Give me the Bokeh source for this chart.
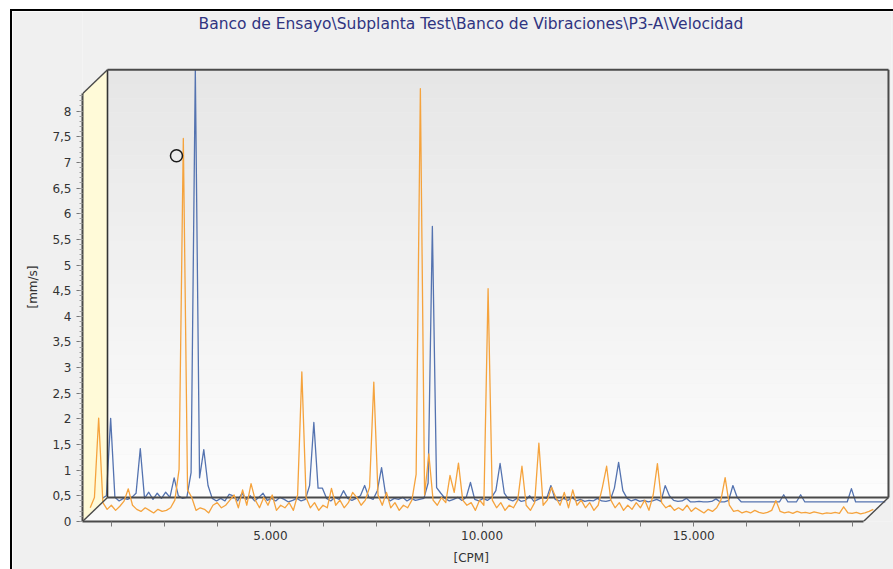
from bokeh.plotting import figure
from bokeh.models import Range1d, FixedTicker, Title, Label
from bokeh.embed import file_html
from bokeh.resources import INLINE

# ---------------------------------------------------------------- data
title_text = "Banco de Ensayo\\Subplanta Test\\Banco de Vibraciones\\P3-A\\Velocidad"
x_title = "[CPM]"
y_title = "[mm/s]"

# spectrum bins: 600 CPM upwards, one bin every 100 CPM
first_cpm = 600
cpm_step = 100

# front row (orange) velocity amplitude per bin, mm/s
spectrum_front = [
    0.15, 0.35, 1.90, 0.25, 0.12, 0.20, 0.10, 0.18, 0.28, 0.52,
    0.20, 0.12, 0.08, 0.15, 0.10, 0.05, 0.12, 0.08, 0.10, 0.15,
    0.30, 0.90, 7.35, 0.50, 0.35, 0.10, 0.15, 0.12, 0.05, 0.20,
    0.25, 0.15, 0.20, 0.30, 0.40, 0.15, 0.50, 0.20, 0.62, 0.30,
    0.15, 0.35, 0.20, 0.40, 0.10, 0.20, 0.15, 0.25, 0.10, 0.40,
    2.80, 0.35, 0.15, 0.25, 0.10, 0.20, 0.15, 0.53, 0.20, 0.30,
    0.15, 0.25, 0.45, 0.35, 0.20, 0.30, 0.55, 2.60, 0.40, 0.20,
    0.45, 0.15, 0.25, 0.10, 0.20, 0.15, 0.30, 0.80, 8.32, 0.40,
    1.20, 0.30, 0.20, 0.35, 0.25, 0.78, 0.45, 1.02, 0.30, 0.20,
    0.25, 0.10, 0.30, 0.20, 4.42, 0.30, 0.15, 0.25, 0.10, 0.20,
    0.15, 0.30, 0.96, 0.20, 0.10, 0.25, 1.41, 0.20, 0.30, 0.55,
    0.35, 0.20, 0.45, 0.15, 0.50, 0.20, 0.30, 0.15, 0.25, 0.10,
    0.20, 0.55, 0.96, 0.30, 0.15, 0.25, 0.10, 0.20, 0.12, 0.25,
    0.15, 0.30, 0.10, 0.40, 1.01, 0.25, 0.15, 0.20, 0.10, 0.15,
    0.10, 0.20, 0.08, 0.15, 0.10, 0.05, 0.12, 0.08, 0.15, 0.30,
    0.74, 0.20, 0.08, 0.10, 0.05, 0.08, 0.05, 0.10, 0.06, 0.04,
    0.06, 0.10, 0.29, 0.08, 0.05, 0.07, 0.04, 0.08, 0.05, 0.06,
    0.04, 0.07, 0.05, 0.03, 0.05, 0.04, 0.06, 0.04, 0.17, 0.05,
    0.04, 0.06, 0.03, 0.05, 0.08, 0.12,
]

# back row (blue) velocity amplitude per bin, mm/s
spectrum_back = [
    0.10, 0.15, 1.66, 0.12, 0.05, 0.10, 0.08, 0.12, 0.20, 1.07,
    0.10, 0.22, 0.08, 0.20, 0.10, 0.22, 0.12, 0.50, 0.15, 0.10,
    0.12, 0.60, 8.45, 0.50, 1.05, 0.35, 0.10, 0.05, 0.10, 0.05,
    0.18, 0.15, 0.05, 0.20, 0.08, 0.15, 0.05, 0.12, 0.20, 0.06,
    0.10, 0.05, 0.12, 0.08, 0.03, 0.06, 0.10, 0.05, 0.08, 0.35,
    1.58, 0.30, 0.30, 0.10, 0.05, 0.12, 0.08, 0.25, 0.10, 0.06,
    0.10, 0.15, 0.35, 0.12, 0.08, 0.25, 0.70, 0.15, 0.05, 0.10,
    0.08, 0.12, 0.05, 0.10, 0.06, 0.08, 0.10, 0.40, 5.40, 0.31,
    0.20, 0.10, 0.05, 0.08, 0.12, 0.06, 0.12, 0.41, 0.08, 0.05,
    0.10, 0.06, 0.12, 0.25, 0.78, 0.20, 0.08, 0.05, 0.10, 0.04,
    0.06, 0.15, 0.04, 0.08, 0.12, 0.10, 0.35, 0.08, 0.05, 0.10,
    0.06, 0.12, 0.05, 0.08, 0.04, 0.06, 0.05, 0.10, 0.05, 0.04,
    0.06, 0.30, 0.80, 0.25, 0.10, 0.05, 0.08, 0.04, 0.06, 0.03,
    0.05, 0.08, 0.04, 0.35, 0.15, 0.06, 0.04, 0.05, 0.10, 0.03,
    0.03, 0.04, 0.03, 0.03, 0.04, 0.09, 0.03, 0.03, 0.06, 0.35,
    0.12, 0.03, 0.03, 0.03, 0.03, 0.03, 0.03, 0.03, 0.03, 0.03,
    0.03, 0.17, 0.03, 0.03, 0.03, 0.17, 0.03, 0.03, 0.03, 0.03,
    0.03, 0.03, 0.03, 0.03, 0.03, 0.03, 0.03, 0.29, 0.03, 0.03,
    0.03, 0.03, 0.03, 0.03, 0.03, 0.03,
]

cpm = [first_cpm + i * cpm_step for i in range(len(spectrum_front))]

y_ticks = [0, 0.5, 1, 1.5, 2, 2.5, 3, 3.5, 4, 4.5, 5, 5.5, 6, 6.5, 7, 7.5, 8]
y_tick_labels = ["0", "0,5", "1", "1,5", "2", "2,5", "3", "3,5", "4", "4,5",
                 "5", "5,5", "6", "6,5", "7", "7,5", "8"]
x_ticks = [1250, 2500, 3750, 5000, 6250, 7500, 8750, 10000, 11250, 12500,
           13750, 15000, 16250, 17500, 18750]
x_tick_labels = {5000: "5.000", 10000: "10.000", 15000: "15.000"}

# cursor marker
cursor_cpm = [2780]
cursor_level = [7.13]

# ---------------------------------------------------------------- layout
# the frame reaches up to the top of the canvas so that the caption,
# drawn as a label, sits inside it above the box
FRAME_W, FRAME_H = 809, 510
X_MIN, X_MAX = 560, 19672
Y_MIN, Y_MAX = 0, 9.942
X_FRONT_END = 19010      # right end of the front plane
Y_FRONT_TOP = 8.34       # top of the front plane

px_per_x = FRAME_W / (X_MAX - X_MIN)
px_per_y = FRAME_H / (Y_MAX - Y_MIN)


def dx(pixels):
    return pixels / px_per_x


def dy(pixels):
    return pixels / px_per_y


DEPTH_X, DEPTH_Y = dx(25), dy(24)     # depth of the pseudo-3D box
FRONT_ROW, BACK_ROW = 6, 18           # depth of each series, in pixels

FONT = "DejaVu Sans"
EDGE = "#4a4a4a"

p = figure(
    frame_width=FRAME_W, frame_height=FRAME_H,
    x_range=Range1d(X_MIN, X_MAX), y_range=Range1d(Y_MIN, Y_MAX),
    output_backend="svg", toolbar_location=None,
    min_border_left=70, min_border_right=2, min_border_top=0, min_border_bottom=48,
    background_fill_color="#f0f0f0", border_fill_color="#f0f0f0",
    outline_line_color=None,
)
p.styles = {
    "margin-left": "10px", "margin-top": "9px",
    "border-left": "2px solid #000000", "border-top": "2px solid #000000",
}
p.xgrid.grid_line_color = None
p.ygrid.grid_line_color = None

# back wall with a soft vertical gradient
bx0, bx1 = X_MIN + DEPTH_X, X_FRONT_END + DEPTH_X
by0, by1 = DEPTH_Y, Y_FRONT_TOP + DEPTH_Y
bands = 30
band_bottom, band_top, band_fill = [], [], []
for i in range(bands):
    t0, t1 = i / bands, (i + 1) / bands
    band_bottom.append(by0 + (by1 - by0) * t0)
    band_top.append(by0 + (by1 - by0) * t1)
    level = round(253 - (253 - 230) * (t0 + t1) / 2)
    band_fill.append("#%02x%02x%02x" % (level, level, level))
p.quad(left=bx0, right=bx1, bottom=band_bottom, top=band_top,
       fill_color=band_fill, line_color=None)

# floor
p.patch([X_MIN, bx0, bx1, X_FRONT_END], [0, by0, by0, 0],
        fill_color="#f9f9f9", line_color=None)

# left side wall
p.patch([X_MIN, X_MIN, bx0, bx0], [0, Y_FRONT_TOP, by1, by0],
        fill_color="#fffad8", line_color=None)

# back series
p.line([c + dx(BACK_ROW) for c in cpm], [v + dy(BACK_ROW) for v in spectrum_back],
       line_color="#5473b0", line_width=1.3, line_join="round")

# back wall outline
p.line([bx0, bx1], [by0, by0], line_color=EDGE, line_width=2)
p.line([bx0, bx0], [by0, by1], line_color="#333333", line_width=1.6)
p.line([bx0, bx1], [by1, by1], line_color=EDGE, line_width=2)
p.line([bx1, bx1], [by0, by1], line_color=EDGE, line_width=2)

# front series
p.line([c + dx(FRONT_ROW) for c in cpm], [v + dy(FRONT_ROW) for v in spectrum_front],
       line_color="#f5a33d", line_width=1.3, line_join="round")

# depth edges of the box
p.line([X_MIN, bx0], [Y_FRONT_TOP, by1], line_color=EDGE, line_width=1.4)
p.line([X_MIN, bx0], [0, by0], line_color=EDGE, line_width=1.4)
p.line([X_FRONT_END, bx1], [0, by0], line_color=EDGE, line_width=1.4)

# cursor
p.scatter(cursor_cpm, cursor_level, marker="circle", size=12,
          fill_color=None, line_color="#1a1a1a", line_width=1.5)

# chart caption above the box
p.add_layout(Label(
    x=X_MIN + dx(116), y=Y_MAX - dy(12), text=title_text,
    text_align="left", text_baseline="middle",
    text_font=FONT, text_font_size="15.5px", text_color="#2f3480",
))

# axes
xa, ya = p.xaxis[0], p.yaxis[0]
xa.bounds = (X_MIN, X_FRONT_END)
ya.bounds = (0, Y_FRONT_TOP)
xa.ticker = FixedTicker(ticks=x_ticks, minor_ticks=[])
xa.major_label_overrides = {t: x_tick_labels.get(t, "") for t in x_ticks}
ya.ticker = FixedTicker(ticks=y_ticks, minor_ticks=[i / 10 for i in range(0, 84)])
ya.major_label_overrides = dict(zip(y_ticks, y_tick_labels))

for ax in (xa, ya):
    ax.axis_line_color = EDGE
    ax.axis_line_width = 2
    ax.major_tick_line_color = "#777777"
    ax.major_tick_in = 0
    ax.minor_tick_in = 0
    ax.major_label_text_font = FONT
    ax.major_label_text_font_size = "12px"
    ax.major_label_text_color = "#333333"

xa.major_tick_out = 5
xa.minor_tick_out = 0
xa.major_label_standoff = 4

ya.major_tick_out = 6
ya.minor_tick_out = 3
ya.minor_tick_line_color = "#a0a0a0"
ya.major_label_standoff = 5

# axis captions, placed along the front plane
p.add_layout(Title(text=x_title, align="left", offset=371, standoff=12,
                   text_font=FONT, text_font_size="12px", text_font_style="normal",
                   text_color="#333333"), "below")
p.add_layout(Title(text=y_title, align="left", offset=213, standoff=19,
                   text_font=FONT, text_font_size="12px", text_font_style="normal",
                   text_color="#333333"), "left")

open("out.html", "w").write(file_html(p, INLINE))
